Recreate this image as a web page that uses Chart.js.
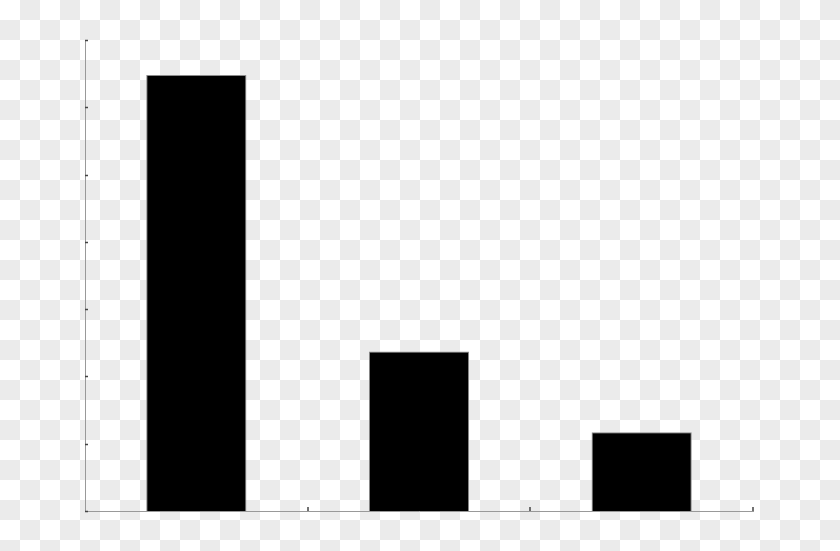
<!DOCTYPE html>
<html>
<head>
<meta charset="utf-8">
<title>Bar chart</title>
<script src="https://cdn.jsdelivr.net/npm/chart.js@4"></script>
<style>
    html, body {
        margin: 0;
        padding: 0;
        width: 840px;
        height: 551px;
        overflow: hidden;
    }
    body {
        /* transparent-look checkerboard, 20px squares */
        background: repeating-conic-gradient(#ebebeb 0 25%, #ffffff 0 50%) 0 0 / 40px 40px;
    }
    #wrap {
        position: absolute;
        left: 0;
        top: 0;
        width: 840px;
        height: 551px;
    }
</style>
</head>
<body>
<div id="wrap"><canvas id="barChart"></canvas></div>
<script>
// Data
const categories = ['A', 'B', 'C'];
const values = [6.48, 2.37, 1.17];
const yTicks = [0, 1, 2, 3, 4, 5, 6, 7];

// Small inward tick marks on both axes
const innerTicks = {
    id: 'innerTicks',
    afterDraw(chart) {
        const ctx = chart.ctx;
        const area = chart.chartArea;
        const y = chart.scales.y;
        ctx.save();
        ctx.strokeStyle = '#444444';
        ctx.lineWidth = 1.5;
        ctx.beginPath();
        yTicks.forEach(t => {
            const py = Math.round(y.getPixelForValue(t)) + 0.5;
            ctx.moveTo(area.left, py);
            ctx.lineTo(area.left + 3, py);
        });
        const step = (area.right - area.left) / categories.length;
        for (let i = 1; i <= categories.length; i++) {
            const px = Math.round(area.left + i * step);
            ctx.moveTo(px, area.bottom);
            ctx.lineTo(px, area.bottom - 4);
        }
        ctx.stroke();
        ctx.restore();
    }
};

document.addEventListener('DOMContentLoaded', () => {
    const ctx = document.getElementById('barChart').getContext('2d');
    new Chart(ctx, {
        type: 'bar',
        data: {
            labels: categories,
            datasets: [{
                data: values,
                backgroundColor: '#000000',
                borderColor: '#8a8a8a',
                borderWidth: 1,
                barPercentage: 0.45,
                categoryPercentage: 1.0
            }]
        },
        options: {
            responsive: true,
            maintainAspectRatio: false,
            animation: false,
            layout: {
                padding: { left: 77, right: 87, top: 40, bottom: 32 }
            },
            scales: {
                x: {
                    offset: true,
                    grid: { display: false },
                    ticks: { display: false },
                    border: { display: true, color: '#999999', width: 1 }
                },
                y: {
                    min: 0,
                    max: 7,
                    afterBuildTicks: axis => {
                        axis.ticks = yTicks.map(v => ({ value: v }));
                    },
                    grid: { display: false },
                    ticks: { display: false },
                    border: { display: true, color: '#999999', width: 1 }
                }
            },
            plugins: {
                legend: { display: false },
                tooltip: { enabled: false }
            }
        },
        plugins: [innerTicks]
    });
});
</script>
</body>
</html>
